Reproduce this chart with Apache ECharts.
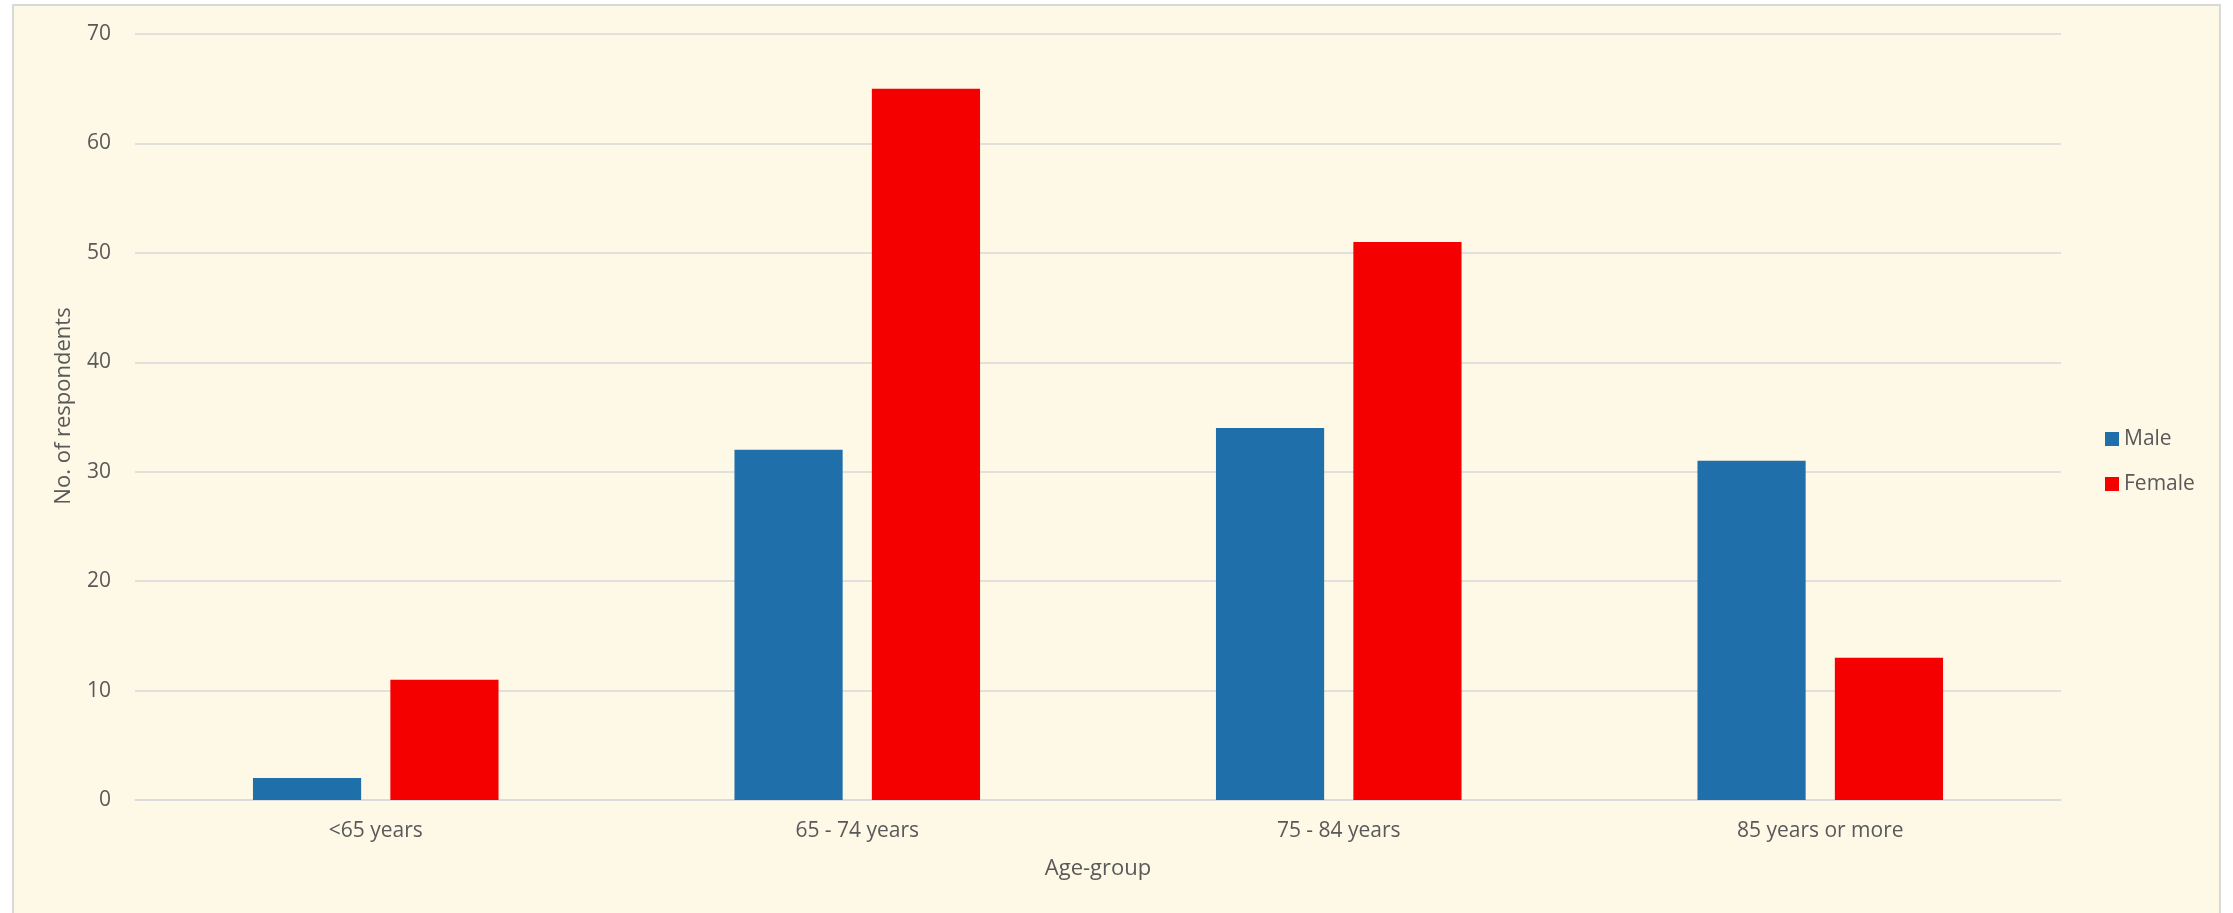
<!DOCTYPE html>
<html>
<head>
<meta charset="utf-8">
<script src="https://cdn.jsdelivr.net/npm/echarts@6/dist/echarts.min.js"></script>
<style>
html,body{margin:0;padding:0;background:#ffffff;}
#chart{width:2233px;height:913px;}
</style>
</head>
<body>
<div id="chart"></div>
<script>
const categories = ['<65 years', '65 - 74 years', '75 - 84 years', '85 years or more'];
const maleValues = [2, 32, 34, 31];
const femaleValues = [11, 65, 51, 13];
const seriesNames = ['Male', 'Female'];

const textColor = '#595959';
const fontFamily = '"Open Sans", "Noto Sans", sans-serif';

const chart = echarts.init(document.getElementById('chart'), null, {renderer: 'canvas'});
chart.setOption({
  animation: false,
  backgroundColor: '#ffffff',
  graphic: [{
    type: 'rect',
    z: -10,
    silent: true,
    shape: {x: 13, y: 5, width: 2207, height: 1000},
    style: {fill: '#FEF8E6', stroke: '#D9D9D9', lineWidth: 2}
  }],
  grid: {left: 135, right: 172, top: 34, bottom: 113, containLabel: false},
  legend: {
    orient: 'vertical',
    left: 2100,
    top: 423,
    itemWidth: 14,
    itemHeight: 14,
    itemGap: 23,
    icon: 'rect',
    textStyle: {color: textColor, fontSize: 21, fontFamily: fontFamily, lineHeight: 22},
    data: seriesNames
  },
  xAxis: {
    type: 'category',
    data: categories,
    name: 'Age-group',
    nameLocation: 'middle',
    nameGap: 58,
    nameTextStyle: {color: textColor, fontSize: 22, fontFamily: fontFamily},
    axisLine: {show: true, lineStyle: {color: '#D9D9D9', width: 1.5}},
    axisTick: {show: false},
    axisLabel: {color: textColor, fontSize: 21, fontFamily: fontFamily, margin: 21}
  },
  yAxis: {
    type: 'value',
    min: 0,
    max: 70,
    interval: 10,
    name: 'No. of respondents',
    nameLocation: 'middle',
    nameGap: 60,
    nameRotate: 90,
    nameTextStyle: {color: textColor, fontSize: 22, fontFamily: fontFamily, padding: [0, 0, 0, 22]},
    axisLine: {show: false},
    axisTick: {show: false},
    axisLabel: {color: textColor, fontSize: 21, fontFamily: fontFamily, margin: 24},
    splitLine: {lineStyle: {color: '#D9D9D9', width: 1.5}}
  },
  series: [
    {
      name: seriesNames[0],
      type: 'bar',
      data: maleValues,
      itemStyle: {color: '#1F6FAA'},
      barGap: '27%',
      barCategoryGap: '49%'
    },
    {
      name: seriesNames[1],
      type: 'bar',
      data: femaleValues,
      itemStyle: {color: '#F50000'},
      barGap: '27%',
      barCategoryGap: '49%'
    }
  ]
});
</script>
</body>
</html>
